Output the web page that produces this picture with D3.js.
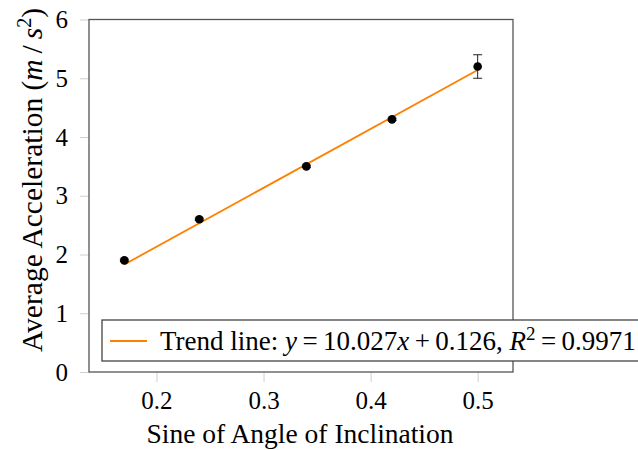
<!DOCTYPE html>
<html><head><meta charset="utf-8">
<script src="https://cdn.jsdelivr.net/npm/d3@7"></script>
<style>body{margin:0;background:#fff}svg{display:block}text{font-family:"Liberation Serif","Times New Roman",serif;fill:#000}</style>
</head><body><svg id="c" width="638" height="450"></svg>
<script>
const xs = [0.17, 0.24, 0.34, 0.42, 0.5];
const ys = [1.9, 2.6, 3.5, 4.3, 5.2];
const errs = [0.02, 0.02, 0.02, 0.02, 0.2];
const slope = 10.027, intercept = 0.126;
const xTicks = [0.2, 0.3, 0.4, 0.5];
const yTicks = [0, 1, 2, 3, 4, 5, 6];

const svg = d3.select("#c");
const L = 89, R = 513, T = 19.5, B = 372;
const x = d3.scaleLinear().domain([0.137, 0.533]).range([L, R]);
const y = d3.scaleLinear().domain([0, 6]).range([B, T]);

const xAxis = d3.axisBottom(x).tickValues(xTicks).tickFormat(d3.format(".1f")).tickSize(10).tickPadding(9);
const gx = svg.append("g").attr("transform", `translate(0,${B})`).call(xAxis);
const yAxis = d3.axisLeft(y).tickValues(yTicks).tickFormat(d3.format("d")).tickSize(9).tickPadding(12);
const gy = svg.append("g").attr("transform", `translate(${L},0)`).call(yAxis);
[gx, gy].forEach(g => {
  g.attr("font-family", "Liberation Serif").attr("font-size", 25);
  g.select(".domain").remove();
  g.selectAll(".tick line").attr("stroke", "#cfcfcf").attr("stroke-width", 1);
  g.selectAll(".tick text").attr("font-family", "Liberation Serif").attr("font-size", 25).attr("fill", "#000");
});

// frame
svg.append("rect").attr("x", L).attr("y", T).attr("width", R - L).attr("height", B - T)
  .attr("fill", "none").attr("stroke", "#555").attr("stroke-width", 1.3);

// trend line
svg.append("line")
  .attr("x1", x(xs[0])).attr("y1", y(slope * xs[0] + intercept))
  .attr("x2", x(xs[xs.length - 1])).attr("y2", y(slope * xs[xs.length - 1] + intercept))
  .attr("stroke", "#ff8000").attr("stroke-width", 1.8);

// error bars
const pts = xs.map((v, i) => ({x: v, y: ys[i], e: errs[i]}));
const eb = svg.append("g").attr("stroke", "#222").attr("stroke-width", 1);
pts.forEach(p => {
  eb.append("line").attr("x1", x(p.x)).attr("x2", x(p.x)).attr("y1", y(p.y - p.e)).attr("y2", y(p.y + p.e));
  [p.y - p.e, p.y + p.e].forEach(v => eb.append("line").attr("x1", x(p.x) - 4.5).attr("x2", x(p.x) + 4.5).attr("y1", y(v)).attr("y2", y(v)));
});
svg.append("g").selectAll("circle").data(pts).join("circle")
  .attr("cx", d => x(d.x)).attr("cy", d => y(d.y)).attr("r", 4.3).attr("fill", "#000");

// legend
svg.append("rect").attr("x", 102).attr("y", 320).attr("width", 600).attr("height", 41)
  .attr("fill", "#fff").attr("stroke", "#444").attr("stroke-width", 1.3);
svg.append("line").attr("x1", 110).attr("x2", 147).attr("y1", 341).attr("y2", 341)
  .attr("stroke", "#ff8000").attr("stroke-width", 1.8);
const lt = svg.append("text").attr("x", 160).attr("y", 350).style("font-size", "27px");
lt.append("tspan").text("Trend line: ");
lt.append("tspan").style("font-style", "italic").text("y");
lt.append("tspan").text("\u2009=\u200910.027");
lt.append("tspan").style("font-style", "italic").text("x");
lt.append("tspan").text("\u2009+\u20090.126, ");
lt.append("tspan").style("font-style", "italic").text("R");
lt.append("tspan").attr("dy", -10).style("font-size", "19px").text("2");
lt.append("tspan").attr("dy", 10).text("\u2009=\u20090.9971");

// axis labels
svg.append("text").attr("x", 300).attr("y", 443).attr("text-anchor", "middle")
  .style("font-size", "27.5px").text("Sine of Angle of Inclination");
const yl = svg.append("text").attr("transform", "translate(42,180) rotate(-90)").attr("text-anchor", "middle")
  .style("font-size", "29.5px");
yl.append("tspan").text("Average Acceleration (");
yl.append("tspan").style("font-style", "italic").text("m");
yl.append("tspan").text("\u2009/\u2009");
yl.append("tspan").style("font-style", "italic").text("s");
yl.append("tspan").attr("dy", -11).style("font-size", "20px").text("2");
yl.append("tspan").attr("dy", 11).text(")");
</script></body></html>
